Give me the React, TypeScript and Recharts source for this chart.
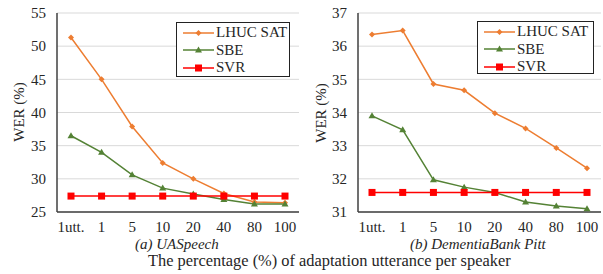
import React from 'react';
import { LineChart, Line, XAxis, YAxis, CartesianGrid, Legend } from 'recharts';

const categories = ['1utt.', '1', '5', '10', '20', '40', '80', '100'];

const uaLhuc = [51.3, 45.0, 37.9, 32.4, 30.0, 27.8, 26.5, 26.4];
const uaSbe = [36.5, 34.0, 30.6, 28.6, 27.7, 26.9, 26.2, 26.2];
const uaSvr = [27.4, 27.4, 27.4, 27.4, 27.4, 27.4, 27.4, 27.4];
const uaTicks = [25, 30, 35, 40, 45, 50, 55];

const dbLhuc = [36.35, 36.47, 34.86, 34.67, 33.98, 33.52, 32.93, 32.32];
const dbSbe = [33.9, 33.48, 31.97, 31.75, 31.59, 31.3, 31.18, 31.1];
const dbSvr = [31.59, 31.59, 31.59, 31.59, 31.59, 31.59, 31.59, 31.59];
const dbTicks = [31, 32, 33, 34, 35, 36, 37];

const ORANGE = '#ED7D31';
const GREEN = '#548235';
const RED = '#FF0000';
const FONT = '"Liberation Serif", "Times New Roman", serif';
const TEXT = '#262626';

const build = (a: number[], b: number[], c: number[]) =>
  categories.map((cat, i) => ({ cat, lhuc: a[i], sbe: b[i], svr: c[i] }));

const Diamond = (props: any) => {
  const { cx, cy } = props;
  if (cx == null || cy == null) return null;
  return <path d={`M${cx},${cy - 3} L${cx + 3},${cy} L${cx},${cy + 3} L${cx - 3},${cy} Z`} fill={ORANGE} />;
};
const Triangle = (props: any) => {
  const { cx, cy } = props;
  if (cx == null || cy == null) return null;
  return <path d={`M${cx},${cy - 3.5} L${cx + 3.5},${cy + 2.5} L${cx - 3.5},${cy + 2.5} Z`} fill={GREEN} />;
};
const Square = (props: any) => {
  const { cx, cy } = props;
  if (cx == null || cy == null) return null;
  return <rect x={cx - 3.5} y={cy - 3.5} width={7} height={7} fill={RED} />;
};

const legendItems = [
  { name: 'LHUC SAT', color: ORANGE, marker: 'diamond' },
  { name: 'SBE', color: GREEN, marker: 'triangle' },
  { name: 'SVR', color: RED, marker: 'square' },
];

const LegendBox = () => (
  <div
    style={{
      border: '1.5px solid #222',
      background: '#fff',
      padding: '1px 0 1px 6px',
      fontFamily: FONT,
      fontSize: 15,
      color: TEXT,
      boxSizing: 'border-box',
      width: '100%',
      height: '100%',
    }}
  >
    {legendItems.map((it) => (
      <div key={it.name} style={{ display: 'flex', alignItems: 'center', height: 17.5, lineHeight: '17px' }}>
        <svg width={31} height={10} style={{ marginRight: 2 }}>
          <line x1={0} y1={5} x2={31} y2={5} stroke={it.color} strokeWidth={1.5} />
          {it.marker === 'diamond' && <path d="M15.5,2 L18.5,5 L15.5,8 L12.5,5 Z" fill={it.color} />}
          {it.marker === 'triangle' && <path d="M15.5,1.5 L19,7.5 L12,7.5 Z" fill={it.color} />}
          {it.marker === 'square' && <rect x={12} y={1.5} width={7} height={7} fill={it.color} />}
        </svg>
        <span>{it.name}</span>
      </div>
    ))}
  </div>
);

type PanelProps = {
  data: any[];
  ticks: number[];
  width: number;
  yWidth: number;
  legend: { left: number; top: number; width: number; height: number };
};

const Panel = ({ data, ticks, width, yWidth, legend }: PanelProps) => (
  <LineChart width={width} height={274} data={data} margin={{ top: 13, right: width === 300 ? 1 : 2, left: 0, bottom: 0 }}>
    <CartesianGrid horizontal vertical={false} stroke="#D9D9D9" strokeWidth={1} />
    <XAxis
      dataKey="cat"
      interval={0}
      padding={{ left: 14, right: 14 }}
      height={62}
      tickSize={0}
      tickMargin={9}
      axisLine={{ stroke: '#404040', strokeWidth: 1.5 }}
      tick={{ fill: TEXT, fontSize: 15, fontFamily: FONT }}
    />
    <XAxis xAxisId="top" orientation="top" dataKey="cat" height={0} tick={false} tickLine={false} axisLine={{ stroke: '#404040', strokeWidth: 1.5 }} />
    <YAxis
      domain={[ticks[0], ticks[ticks.length - 1]]}
      ticks={ticks}
      width={yWidth}
      tickSize={0}
      tickMargin={11}
      axisLine={{ stroke: '#404040', strokeWidth: 1.5 }}
      tick={{ fill: TEXT, fontSize: 15, fontFamily: FONT }}
    />
    <YAxis yAxisId="right" orientation="right" width={0} tick={false} tickLine={false} axisLine={{ stroke: '#404040', strokeWidth: 1.5 }} />
    <Legend
      layout="vertical"
      align="center"
      verticalAlign="middle"
      wrapperStyle={{ position: 'absolute', ...legend }}
      content={() => <LegendBox />}
    />
    <Line dataKey="lhuc" name="LHUC SAT" stroke={ORANGE} strokeWidth={1.5} dot={<Diamond />} activeDot={false} isAnimationActive={false} />
    <Line dataKey="sbe" name="SBE" stroke={GREEN} strokeWidth={1.5} dot={<Triangle />} activeDot={false} isAnimationActive={false} />
    <Line dataKey="svr" name="SVR" stroke={RED} strokeWidth={1.5} dot={<Square />} activeDot={false} isAnimationActive={false} />
  </LineChart>
);

const abs = (s: React.CSSProperties): React.CSSProperties => ({
  position: 'absolute',
  fontFamily: FONT,
  fontSize: 15,
  color: TEXT,
  whiteSpace: 'nowrap',
  width: 'max-content',
  ...s,
});

export default function App() {
  return (
    <div style={{ position: 'absolute', left: 0, top: 0, width: 603, height: 274, background: '#fff', overflow: 'hidden' }}>
      <div style={{ position: 'absolute', left: 0, top: 0 }}>
        <Panel data={build(uaLhuc, uaSbe, uaSvr)} ticks={uaTicks} width={300} yWidth={57} legend={{ left: 176, top: 22, width: 114, height: 55 }} />
      </div>
      <div style={{ position: 'absolute', left: 300, top: 0 }}>
        <Panel data={build(dbLhuc, dbSbe, dbSvr)} ticks={dbTicks} width={303} yWidth={58} legend={{ left: 177, top: 21, width: 117, height: 53 }} />
      </div>
      <div style={abs({ left: 19, top: 112, transform: 'translate(-50%, -50%) rotate(-90deg)' })}>WER (%)</div>
      <div style={abs({ left: 321, top: 113, transform: 'translate(-50%, -50%) rotate(-90deg)' })}>WER (%)</div>
      <div style={abs({ left: 135, top: 244, transform: 'translateY(-50%)', fontStyle: 'italic' })}>(a) UASpeech</div>
      <div style={abs({ left: 410, top: 244, transform: 'translateY(-50%)', fontStyle: 'italic' })}>(b) DementiaBank Pitt</div>
      <div style={abs({ left: 148, top: 261, transform: 'translateY(-50%)', fontSize: 16.4 })}>The percentage (%) of adaptation utterance per speaker</div>
    </div>
  );
}
